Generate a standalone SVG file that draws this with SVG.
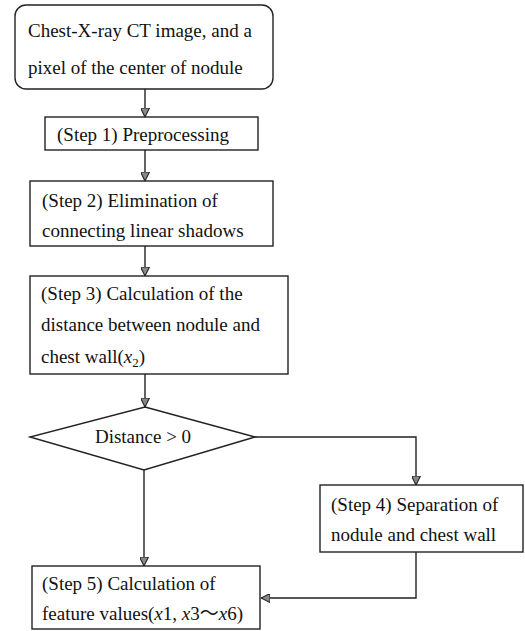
<svg xmlns="http://www.w3.org/2000/svg" width="525" height="631" viewBox="0 0 525 631">
<style>
.box{fill:#fff;stroke:#222;stroke-width:1.4}
.t{font-family:"Liberation Serif","Noto Sans CJK JP",serif;font-size:19px;fill:#111}
.c{fill:none;stroke:#222;stroke-width:1.4}
</style>
<defs>
<marker id="ah" viewBox="0 0 10 10" refX="10" refY="5" markerWidth="9" markerHeight="9" markerUnits="userSpaceOnUse" orient="auto">
<path d="M0,0 L10,5 L0,10 Z" fill="#888" stroke="#222" stroke-width="1.2"/>
</marker>
</defs>
<rect width="525" height="631" fill="#fff"/>
<g id="connectors">
<line class="c" x1="145" y1="89" x2="145" y2="117" marker-end="url(#ah)"/>
<line class="c" x1="145" y1="150" x2="145" y2="181" marker-end="url(#ah)"/>
<line class="c" x1="145" y1="246" x2="145" y2="276" marker-end="url(#ah)"/>
<line class="c" x1="145" y1="374" x2="145" y2="407" marker-end="url(#ah)"/>
<line class="c" x1="144" y1="470" x2="144" y2="566" marker-end="url(#ah)"/>
<polyline class="c" points="255,437 416,437 416,485" marker-end="url(#ah)"/>
<polyline class="c" points="416,552 416,598 261,598" marker-end="url(#ah)"/>
</g>
<g id="start">
<rect class="box" x="15" y="5" width="258" height="84" rx="11"/>
<text class="t" x="28" y="37">Chest-X-ray CT image, and a</text>
<text class="t" x="28" y="74">pixel of the center of nodule</text>
</g>
<g id="step1">
<rect class="box" x="45" y="117" width="213" height="33"/>
<text class="t" x="57" y="141">(Step 1) Preprocessing</text>
</g>
<g id="step2">
<rect class="box" x="30" y="181" width="243" height="65"/>
<text class="t" x="42" y="207">(Step 2) Elimination of</text>
<text class="t" x="42" y="237">connecting linear shadows</text>
</g>
<g id="step3">
<rect class="box" x="30" y="276" width="258" height="98"/>
<text class="t" x="41" y="300">(Step 3) Calculation of the</text>
<text class="t" x="41" y="331">distance between nodule and</text>
<text class="t" x="41" y="363">chest wall(<tspan font-style="italic">x</tspan><tspan font-size="13" dy="4">2</tspan><tspan dy="-4">)</tspan></text>
</g>
<g id="decision">
<polygon class="box" points="145,407 255,437 144,470 30,437"/>
<text class="t" x="143" y="443" text-anchor="middle">Distance &gt; 0</text>
</g>
<g id="step4">
<rect class="box" x="320" y="485" width="203" height="67"/>
<text class="t" x="331" y="511">(Step 4) Separation of</text>
<text class="t" x="331" y="541">nodule and chest wall</text>
</g>
<g id="step5">
<rect class="box" x="32" y="566" width="228" height="63"/>
<text class="t" x="42" y="590">(Step 5) Calculation of</text>
<text class="t" x="42" y="620">feature values(<tspan font-style="italic">x</tspan>1, <tspan font-style="italic">x</tspan>3～<tspan font-style="italic">x</tspan>6)</text>
</g>
</svg>
